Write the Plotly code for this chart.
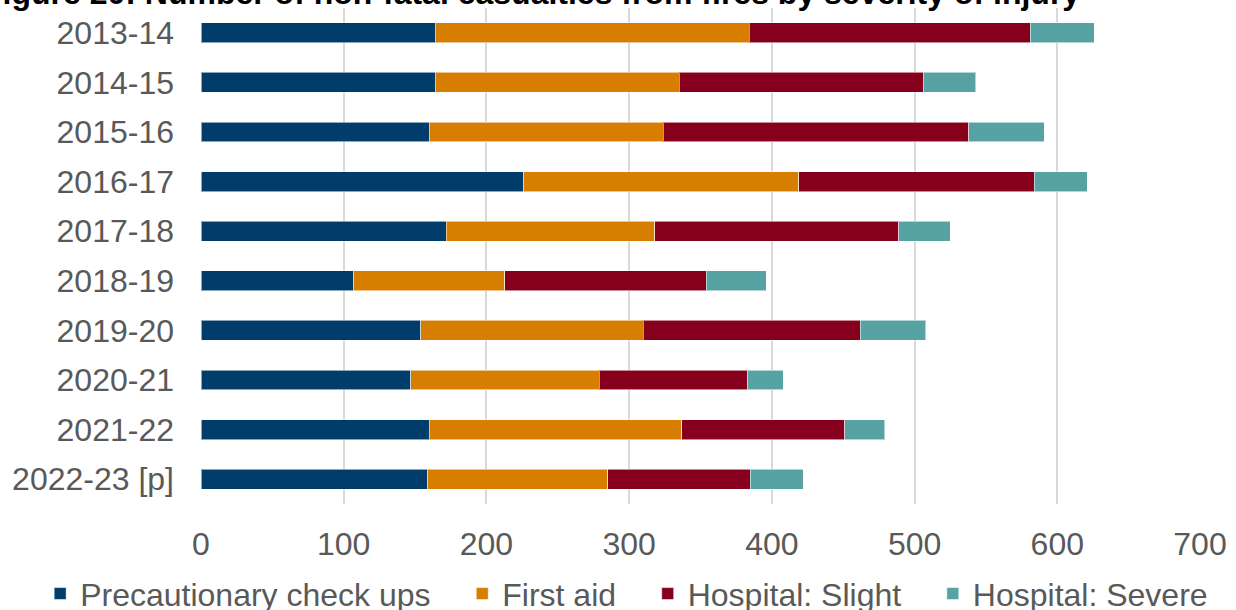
import plotly.graph_objects as go

# Financial years (top to bottom) and casualties by severity of injury
years = ["2013-14", "2014-15", "2015-16", "2016-17", "2017-18",
         "2018-19", "2019-20", "2020-21", "2021-22", "2022-23 [p]"]
precautionary = [164, 164, 160, 226, 172, 107, 154, 147, 160, 159]
first_aid = [220, 171, 164, 193, 146, 106, 156, 132, 177, 126]
hospital_slight = [197, 171, 214, 165, 171, 141, 152, 104, 114, 100]
hospital_severe = [45, 37, 53, 37, 36, 42, 46, 25, 28, 37]

x_ticks = [0, 100, 200, 300, 400, 500, 600, 700]

# Non-breaking spaces widen the gap between legend entries
PAD = "\u00a0" * 3
series = [
    ("Precautionary check ups" + PAD, precautionary, "#003D6B"),
    ("First aid" + PAD, first_aid, "#D77E00"),
    ("Hospital: Slight" + PAD, hospital_slight, "#86001D"),
    ("Hospital: Severe", hospital_severe, "#57A2A3"),
]

FONT = "Liberation Sans, Arial, sans-serif"
TEXT = "#595959"
SIZE = 32

fig = go.Figure()
for name, vals, col in series:
    fig.add_trace(go.Bar(
        y=years, x=vals, name=name, orientation="h",
        marker=dict(color=col, line=dict(color="rgba(255,255,255,0.55)", width=1)),
    ))

fig.update_layout(
    width=1236, height=610,
    barmode="stack", bargap=0.6,
    plot_bgcolor="white", paper_bgcolor="white",
    margin=dict(l=201, r=36, t=8, b=106, autoexpand=False),
    font=dict(family=FONT, size=SIZE, color=TEXT),
    showlegend=True,
    legend=dict(
        orientation="h", xref="paper", yref="paper",
        x=-0.161, xanchor="left", y=-0.181, yanchor="middle",
        font=dict(family=FONT, size=SIZE, color=TEXT),
        traceorder="normal", itemwidth=30,
    ),
    xaxis=dict(
        range=[0, 700], tickvals=x_ticks, showgrid=True,
        gridcolor="#D9D9D9", gridwidth=1.5, zeroline=False,
        showline=False, ticks="", ticklabelstandoff=18,
        tickfont=dict(family=FONT, size=SIZE, color=TEXT),
        automargin=False,
    ),
    yaxis=dict(
        autorange="reversed", showgrid=False, zeroline=False,
        showline=False, ticks="", ticklabelstandoff=26,
        tickfont=dict(family=FONT, size=SIZE, color=TEXT),
        automargin=False,
    ),
    annotations=[dict(
        text="<b>Figure 20: Number of non-fatal casualties from fires by severity of injury</b>",
        xref="paper", yref="paper", x=-0.22, y=1.031,
        xanchor="left", yanchor="middle", showarrow=False,
        font=dict(family=FONT, size=SIZE, color="#000000"),
    )],
)

fig.write_html("out.html")
